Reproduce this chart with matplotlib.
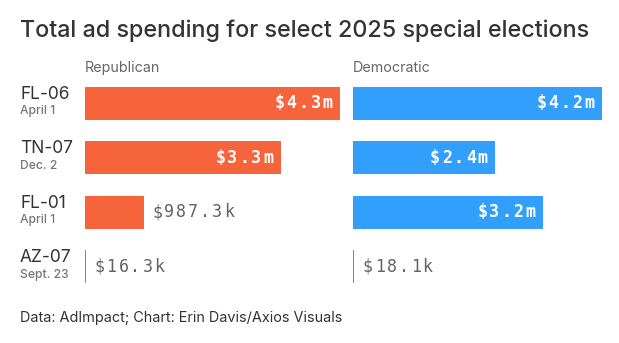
import matplotlib
matplotlib.use("Agg")
import matplotlib.pyplot as plt

# Data (millions of dollars)
races = ["FL-06", "TN-07", "FL-01", "AZ-07"]
dates = ["April 1", "Dec. 2", "April 1", "Sept. 23"]
rep_spend = [4.3, 3.3, 0.9873, 0.0163]
dem_spend = [4.2, 2.4, 3.2, 0.0181]
rep_labels = ["$4.3m", "$3.3m", "$987.3k", "$16.3k"]
dem_labels = ["$4.2m", "$2.4m", "$3.2m", "$18.1k"]

REP = "#F6643C"
DEM = "#339FFC"
W, H = 619, 343
PT = 0.72  # points per pixel at dpi 100

plt.rcParams["font.family"] = ["Inter", "DejaVu Sans"]
fig = plt.figure(figsize=(W / 100, H / 100), dpi=100)

def px(x0, y_top, w, h):
    return [x0 / W, 1 - (y_top + h) / H, w / W, h / H]

ax_r = fig.add_axes(px(85, 76, 255, 218))
ax_d = fig.add_axes(px(353, 76, 255, 218))

mono = "DejaVu Sans Mono"
ADV = 12  # px per character, tracked monospace

def mono_label(ax, x, y, s, inside):
    n = len(s)
    for k, ch in enumerate(s):
        if inside:
            off = -12.5 - (n - 1 - k) * ADV
            kw = dict(color="white", fontweight="bold")
        else:
            off = 13.5 + k * ADV
            kw = dict(color="#636363")
        ax.annotate(ch, (x, y), xytext=(off * PT, -5 * PT), textcoords="offset points",
                    ha="center", va="baseline", fontsize=12, family=mono,
                    annotation_clip=False, **kw)

for ax, vals, labs, col in [(ax_r, rep_spend, rep_labels, REP),
                            (ax_d, dem_spend, dem_labels, DEM)]:
    ypos = range(len(vals))
    ax.barh(ypos, vals, height=0.6, color=col, linewidth=0)
    ax.set_xlim(0, 4.3)
    ax.set_ylim(3.5, -0.5)
    ax.axis("off")
    for i, (v, lab) in enumerate(zip(vals, labs)):
        mono_label(ax, v, i, lab, v > 1.5)

# Row labels
for i, (r, d) in enumerate(zip(races, dates)):
    ax_r.annotate(r, (20 / W, i), xycoords=("figure fraction", "data"),
                  xytext=(0, 3.2), textcoords="offset points",
                  ha="left", va="baseline", fontsize=12.5, color="#333333")
    ax_r.annotate(d, (20 / W, i), xycoords=("figure fraction", "data"),
                  xytext=(0, -7.9), textcoords="offset points",
                  ha="left", va="baseline", fontsize=8.7, color="#777777",
                  fontweight="medium")

# Column headers
fig.text(85 / W, 1 - 72 / H, "Republican", fontsize=10.3, color="#666666", va="baseline")
fig.text(353 / W, 1 - 72 / H, "Democratic", fontsize=10.3, color="#666666", va="baseline")

# Title and footer
fig.text(20 / W, 1 - 37.5 / H, "Total ad spending for select 2025 special elections",
         fontsize=16.8, color="#333333", va="baseline", fontweight="medium")
fig.text(20 / W, 1 - 322 / H, "Data: AdImpact; Chart: Erin Davis/Axios Visuals",
         fontsize=10.4, color="#333333", va="baseline")

fig.savefig("out.png", dpi=100, facecolor="white")
